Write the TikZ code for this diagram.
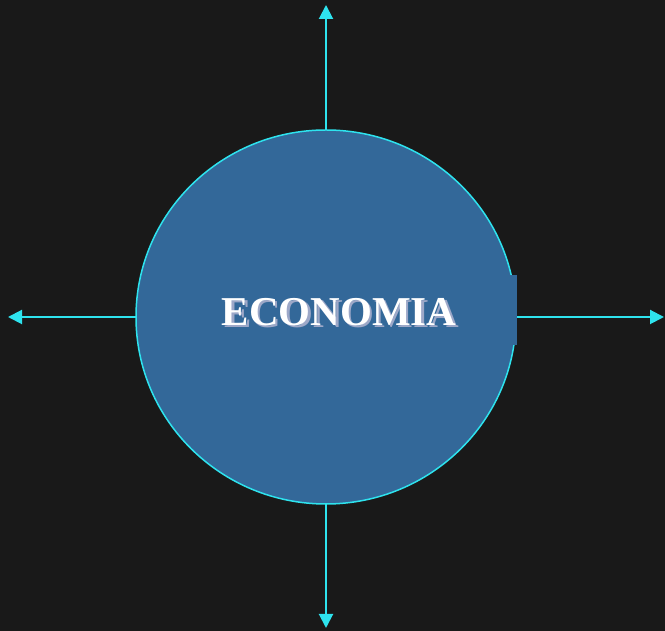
\documentclass[tikz,border=0pt]{standalone}
\usepackage{fontspec}
\setmainfont{Liberation Serif}
\usetikzlibrary{arrows.meta}
\definecolor{bg}{HTML}{191919}
\definecolor{cfill}{HTML}{336899}
\definecolor{cyanline}{HTML}{2EE3EE}
\definecolor{shadowc}{HTML}{9DA8C8}
\newcommand{\shadowtext}[1]{\rlap{\kern2.5pt\raisebox{-2pt}{\color{shadowc}#1}}#1}
\tikzset{
  conn/.style={draw=cyanline, line width=2pt, -{Triangle[length=14pt,width=14pt]}},
  title/.style={font=\bfseries\fontsize{41}{45}\selectfont, inner sep=0pt, text=white}
}
\begin{document}
\begin{tikzpicture}[x=1pt,y=1pt]
\fill[bg] (0,0) rectangle (665,631);
\useasboundingbox (0,0) rectangle (665,631);
\draw[cyanline, fill=cfill, line width=1.5pt] (326,314) ellipse [x radius=190, y radius=187];
\fill[cfill] (490,286) rectangle (517,356);
\coordinate (ctop) at (326,501);
\coordinate (cbot) at (326,127);
\coordinate (cleft) at (136,314);
\coordinate (cright) at (517,314);
\coordinate (etop) at (326,626);
\coordinate (ebot) at (326,3);
\coordinate (eleft) at (8,314);
\coordinate (eright) at (664,314);
\draw[conn] (ctop) -- (etop);
\draw[conn] (cbot) -- (ebot);
\draw[conn] (cleft) -- (eleft);
\draw[conn] (cright) -- (eright);
\node[title] (label) at (339,318) {\shadowtext{ECONOMIA}};
\end{tikzpicture}
\end{document}
